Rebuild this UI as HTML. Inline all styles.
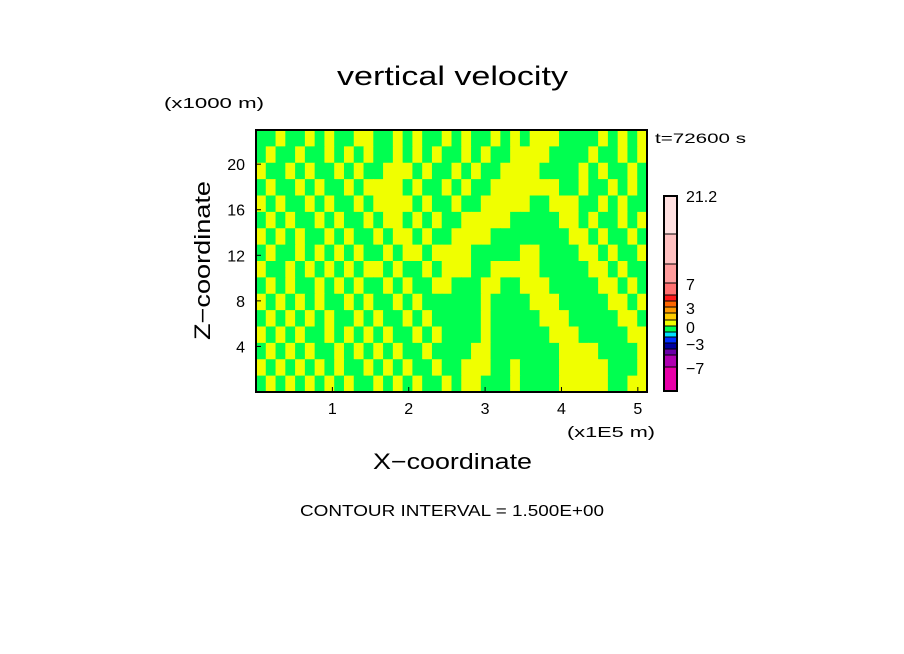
<!DOCTYPE html>
<html><head><meta charset="utf-8"><style>
body{margin:0;background:#fff;}
svg{display:block;font-family:"Liberation Sans",sans-serif;}
</style></head><body>
<svg id="c" width="904" height="654" xmlns="http://www.w3.org/2000/svg">
<text x="337" y="85" font-size="27" textLength="231" lengthAdjust="spacingAndGlyphs">vertical velocity</text>
<text x="164" y="108" font-size="15" textLength="100" lengthAdjust="spacingAndGlyphs">(x1000 m)</text>
<text x="655" y="143" font-size="14" textLength="91" lengthAdjust="spacingAndGlyphs">t=72600 s</text>
<text x="567" y="437" font-size="15" textLength="88" lengthAdjust="spacingAndGlyphs">(x1E5 m)</text>
<text x="373" y="469" font-size="22" textLength="159" lengthAdjust="spacingAndGlyphs">X−coordinate</text>
<text x="210" y="340" font-size="22" textLength="159" lengthAdjust="spacingAndGlyphs" transform="rotate(-90 210 340)">Z−coordinate</text>
<text x="300" y="516" font-size="16" textLength="304" lengthAdjust="spacingAndGlyphs">CONTOUR INTERVAL = 1.500E+00</text>
<g id="field"></g>
<g id="axes"></g>
<g id="cbar"></g>
</svg>
<script>
const xTicks=[1,2,3,4,5];
const zTicks=[4,8,12,16,20];
const xMax=5.12, zMax=23;
const fieldRows=[
"1101101011001101011010110101000111101010",
"1011011010101101010110101100001111011010",
"0110101101011000101101011000011110101101",
"1011010110100001011010110000000110110101",
"0101101011010000101101100000110001101011",
"1010110101101001010110000011111001011010",
"0101011010110100101100001111111100101101",
"1011010101011010010000111110011110010110",
"0110101010100101101000110000011111001011",
"1010110101011010110011100110001111100101",
"0101010110101101011111101111000111110010",
"1010101011010110101111101111100011111001",
"0101011010101011010111101111110001111100",
"1010101101010101101111001111111000011110",
"0101010101101010110110001101111000001110",
"1010101010110101011010011101111000001100"];
const cbarEdges=[-9.5,-7.1,-6,-5,-4,-3,-2.2,-1,0,1,2,3,3.5,7,10.5,14,21.2];
const cbarColors=["#e800a8","#b000b0","#6a00a8","#0000a0","#0030ff","#00e0ff","#00ff50","#f0ff00","#ffcc00","#ff9900","#ff6600","#ff1a1a","#ff7070","#ff9c9c","#ffc0c0","#ffe0e0"];
const cbarTicks=["-7","-3","0","3","7","21.2"];
const cbarTickVals=[-7.2,-4.2,-1.2,1.8,6.7,21.2];
const NS="http://www.w3.org/2000/svg";
const L=256,R=647,T=130,B=392;
const sx=v=>L+v/xMax*(R-L), sz=v=>B-v/zMax*(B-T);
function mk(tag,attrs,parent){const e=document.createElementNS(NS,tag);for(const k in attrs)e.setAttribute(k,attrs[k]);parent.appendChild(e);return e;}
const field=document.getElementById('field');
const nr=fieldRows.length,nc=fieldRows[0].length;
const cw=(R-L)/nc,ch=(B-T)/nr;
for(let r=0;r<nr;r++)for(let c=0;c<nc;c++){
 const e=mk('rect',{x:L+c*cw,y:T+r*ch,width:cw+0.6,height:ch+0.6,fill:fieldRows[r][c]==='1'?'#00ff50':'#f0ff00'},field);
 
 
}
const ax=document.getElementById('axes');
const fr=mk('rect',{x:L,y:T,width:R-L,height:B-T,fill:'none',stroke:'#000','stroke-width':2},ax);


xTicks.forEach(v=>{
 const t=mk('text',{x:sx(v),y:414,'font-size':16,'text-anchor':'middle'},ax);t.textContent=v;
 
 
 mk('line',{x1:sx(v),x2:sx(v),y1:B,y2:B-5,stroke:'#000'},ax);
});
zTicks.forEach(v=>{
 const t=mk('text',{x:245,y:sz(v)+6,'font-size':16,'text-anchor':'end'},ax);t.textContent=v;
 
 
 mk('line',{x1:L,x2:L+5,y1:sz(v),y2:sz(v),stroke:'#000'},ax);
});
const cb=document.getElementById('cbar');
const cT=196,cB=391,cL=664,cW=13;
const edgePos=[391,367,355,349,343,337,332,326,320,313,307,301,295,283,264,234,196];
function posOf(v){for(let i=0;i<cbarEdges.length-1;i++){if(v<=cbarEdges[i+1]){const a=edgePos[i],b=edgePos[i+1];return a+(v-cbarEdges[i])/(cbarEdges[i+1]-cbarEdges[i])*(b-a);}}return cT;}
for(let i=0;i<cbarColors.length;i++){
 const y0=posOf(cbarEdges[i]),y1=posOf(cbarEdges[i+1]);
 const e=mk('rect',{x:cL,y:y1,width:cW,height:y0-y1,fill:cbarColors[i],stroke:'#000','stroke-width':1},cb);
 
 
}
mk('rect',{x:cL,y:cT,width:cW,height:cB-cT,fill:'none',stroke:'#000','stroke-width':2},cb);
cbarTicks.forEach((s,i)=>{
 const t=mk('text',{x:686,y:posOf(cbarTickVals[i])+6,'font-size':16},cb);t.textContent=s.replace('-','−');
 
 
});
</script>
</body></html>
